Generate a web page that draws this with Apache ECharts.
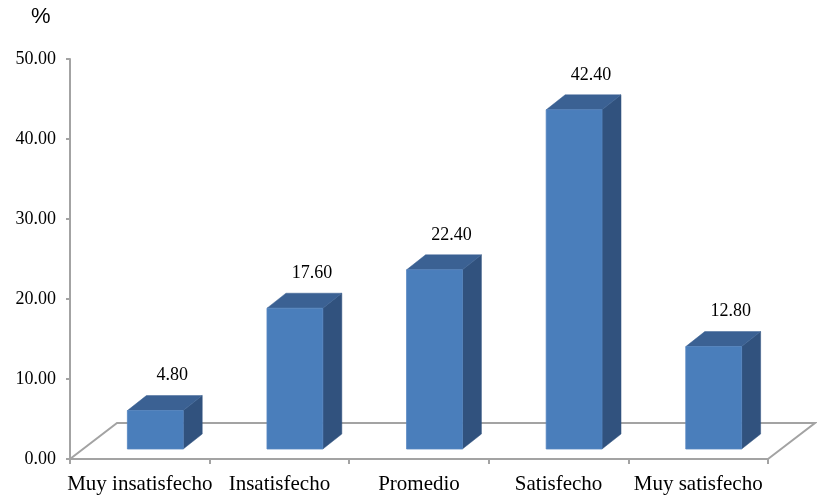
<!DOCTYPE html>
<html>
<head>
<meta charset="utf-8">
<script src="https://cdn.jsdelivr.net/npm/echarts@6/dist/echarts.min.js"></script>
<style>
  html, body { margin: 0; padding: 0; background: #fff; }
  #chart { width: 817px; height: 497px; }
</style>
</head>
<body>
<div id="chart"></div>
<script type="text/javascript">
var categories = ['Muy insatisfecho', 'Insatisfecho', 'Promedio', 'Satisfecho', 'Muy satisfecho'];
var values = [4.80, 17.60, 22.40, 42.40, 12.80];
var yTicks = [0, 10, 20, 30, 40, 50];

// 3D look: bar plane sits a bit behind the front edge of the floor
var PLANE_X = 15.5, PLANE_Y = -10;   // shift of the bar plane
var DEPTH_X = 19, DEPTH_Y = -15;     // bar depth
var FLOOR_X = 47, FLOOR_Y = -36;     // floor depth
var AXIS_GRAY = '#a3a3a3';

var chart = echarts.init(document.getElementById('chart'));

var barData = values.map(function (v, i) { return [i, v]; });

var option = {
    animation: false,
    textStyle: { fontFamily: '"Liberation Serif", "Times New Roman", serif' },
    graphic: [{
        type: 'text', left: 31, top: 6,
        style: { text: '%', fontSize: 22, fontFamily: '"Liberation Sans", Arial, sans-serif', fill: '#000' }
    }],
    grid: { left: 70, right: 49, top: 59, bottom: 38 },
    xAxis: {
        type: 'category',
        data: categories,
        axisLine: { lineStyle: { color: AXIS_GRAY, width: 2 } },
        axisTick: { show: true, length: 5, lineStyle: { color: AXIS_GRAY, width: 2 } },
        axisLabel: { interval: 0, color: '#000', fontSize: 21, margin: 15, fontFamily: '"Liberation Serif", serif' }
    },
    yAxis: {
        type: 'value',
        min: yTicks[0],
        max: yTicks[yTicks.length - 1],
        interval: 10,
        axisLine: { show: true, lineStyle: { color: AXIS_GRAY, width: 2 } },
        axisTick: { show: true, length: 4, lineStyle: { color: AXIS_GRAY, width: 2 } },
        splitLine: { show: false },
        axisLabel: {
            color: '#000', fontSize: 18, margin: 14, fontFamily: '"Liberation Serif", serif',
            formatter: function (v) { return v.toFixed(2); }
        }
    },
    series: [
        {
            // floor
            type: 'custom',
            clip: false,
            z: 1,
            silent: true,
            data: [[0, 0]],
            renderItem: function (params, api) {
                var half = api.size([1, 0])[0] / 2;
                var l = api.coord([0, 0]);
                var r = api.coord([categories.length - 1, 0]);
                var x0 = l[0] - half, x1 = r[0] + half, y = l[1];
                return {
                    type: 'polyline',
                    shape: { points: [[x0, y], [x0 + FLOOR_X, y + FLOOR_Y], [x1 + FLOOR_X, y + FLOOR_Y], [x1, y]] },
                    style: { stroke: AXIS_GRAY, lineWidth: 2, fill: null }
                };
            }
        },
        {
            type: 'custom',
            clip: false,
            z: 3,
            data: barData,
            renderItem: function (params, api) {
                var idx = api.value(0), v = api.value(1);
                var base = api.coord([idx, 0]);
                var top = api.coord([idx, v]);
                var bw = api.size([1, 0])[0] * 0.4;
                var x0 = base[0] + PLANE_X - bw / 2, x1 = x0 + bw;
                var yb = base[1] + PLANE_Y, yt = top[1] + PLANE_Y;
                return {
                    type: 'group',
                    children: [
                        {
                            type: 'polygon',
                            shape: { points: [[x1, yt], [x1 + DEPTH_X, yt + DEPTH_Y], [x1 + DEPTH_X, yb + DEPTH_Y], [x1, yb]] },
                            style: { fill: '#31527e', stroke: '#31527e', lineWidth: 0.5 }
                        },
                        {
                            type: 'polygon',
                            shape: { points: [[x0, yt], [x0 + DEPTH_X, yt + DEPTH_Y], [x1 + DEPTH_X, yt + DEPTH_Y], [x1, yt]] },
                            style: { fill: '#3b6193', stroke: '#3b6193', lineWidth: 0.5 }
                        },
                        {
                            type: 'rect',
                            shape: { x: x0, y: yt, width: bw, height: yb - yt },
                            style: { fill: '#4a7ebb', stroke: '#5585c0', lineWidth: 0.8 }
                        },
                        {
                            type: 'text',
                            x: (x0 + x1) / 2 + 17,
                            y: yt + DEPTH_Y - 20,
                            style: {
                                text: v.toFixed(2), fontSize: 18, fill: '#000',
                                fontFamily: '"Liberation Serif", serif',
                                align: 'center', verticalAlign: 'middle'
                            }
                        }
                    ]
                };
            }
        }
    ]
};

chart.setOption(option);
</script>
</body>
</html>
